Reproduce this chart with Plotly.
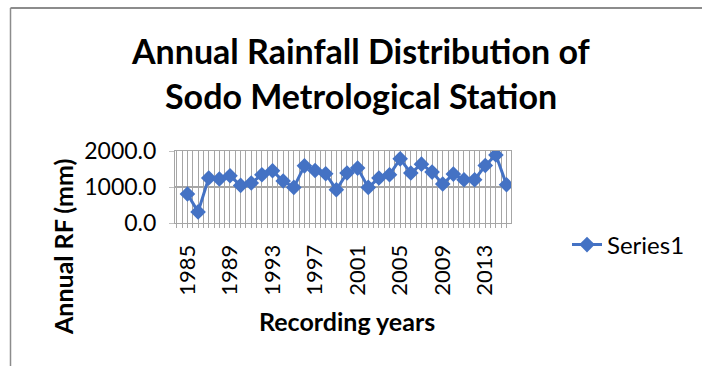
import plotly.graph_objects as go

# Annual rainfall record, Sodo station
years = list(range(1985, 2016))
rainfall_mm = [807, 309, 1249, 1221, 1312, 1044, 1110, 1340, 1450, 1166,
               989, 1588, 1459, 1367, 925, 1387, 1525, 989, 1249, 1340,
               1782, 1387, 1635, 1414, 1083, 1359, 1202, 1202, 1597, 1890,
               1063]
series_name = "Series1"
title_lines = ["Annual Rainfall Distribution of", "Sodo Metrological Station"]
x_title = "Recording years"
y_title = "Annual RF (mm)"

FONT = "Lato, Carlito, 'Liberation Sans', sans-serif"
BLUE = "#4472C4"
GRID = "#a6a6a6"
FRAME = "#8c8c8c"

W, H = 703, 366
L, R, T, B = 175, 192, 151, 143


def px_to_paper_x(px):
    return (px - L) / (W - L - R)


def px_to_paper_y(py):
    return (H - B - py) / (H - T - B)


fig = go.Figure()
fig.add_trace(go.Scatter(
    x=years, y=rainfall_mm, name=series_name, mode="lines+markers",
    line=dict(color=BLUE, width=3),
    marker=dict(symbol="diamond", size=12, color=BLUE),
))

# chart title (two centred lines), axis titles
annotations = [
    dict(text=f"<b>{line}</b>", x=px_to_paper_x(361), y=px_to_paper_y(cy),
         xref="paper", yref="paper", xanchor="center", yanchor="middle",
         showarrow=False, font=dict(size=34, family=FONT, color="#000"))
    for line, cy in zip(title_lines, [50, 95])
]
annotations += [
    dict(text=f"<b>{x_title}</b>", x=px_to_paper_x(346.5), y=px_to_paper_y(321),
         xref="paper", yref="paper", xanchor="center", yanchor="middle",
         showarrow=False, font=dict(size=25, family=FONT, color="#000")),
    dict(text=f"<b>{y_title}</b>", x=px_to_paper_x(62.5), y=px_to_paper_y(247.5),
         xref="paper", yref="paper", xanchor="center", yanchor="middle",
         textangle=-90, showarrow=False,
         font=dict(size=25, family=FONT, color="#000")),
]

# chart-area frame: left and top edges
frame_left = px_to_paper_x(10.5)
frame_top = px_to_paper_y(8)
shapes = [
    dict(type="line", xref="paper", yref="paper",
         x0=frame_left, x1=frame_left, y0=px_to_paper_y(H + 5), y1=frame_top,
         line=dict(color=FRAME, width=1.5), layer="above"),
    dict(type="line", xref="paper", yref="paper",
         x0=frame_left, x1=px_to_paper_x(W - 1), y0=frame_top, y1=frame_top,
         line=dict(color=FRAME, width=2), layer="above"),
]

fig.update_layout(
    width=W, height=H, autosize=False,
    margin=dict(l=L, r=R, t=T, b=B, pad=0),
    paper_bgcolor="white", plot_bgcolor="white",
    font=dict(family=FONT, color="#000000"),
    showlegend=True,
    legend=dict(
        x=px_to_paper_x(567), y=px_to_paper_y(245),
        xanchor="left", yanchor="middle",
        font=dict(size=24, family=FONT),
        bgcolor="rgba(0,0,0,0)",
    ),
    xaxis=dict(
        range=[1983.83, 2015.42],
        tickmode="linear", tick0=1985, dtick=4,
        tickangle=-90, tickfont=dict(size=22, family=FONT),
        ticks="outside", ticklen=4, tickcolor=GRID,
        ticklabelstandoff=8,
        showgrid=True, gridcolor=GRID, gridwidth=1,
        minor=dict(tick0=1985, dtick=0.5, showgrid=True, gridcolor=GRID,
                   gridwidth=1, ticks="outside", ticklen=4, tickcolor=GRID),
        showline=True, linecolor=GRID, linewidth=1, mirror=True,
        zeroline=False,
    ),
    yaxis=dict(
        range=[0, 2000], tickmode="linear", tick0=0, dtick=1000,
        tickformat=".1f", tickfont=dict(size=23, family=FONT),
        ticks="outside", ticklen=5, tickcolor="#bfbfbf",
        ticklabelstandoff=8,
        showgrid=True, gridcolor=GRID, gridwidth=1.5,
        showline=True, linecolor=GRID, linewidth=1, mirror=True,
        zeroline=False,
    ),
    annotations=annotations,
    shapes=shapes,
)

fig.write_html("out.html")
